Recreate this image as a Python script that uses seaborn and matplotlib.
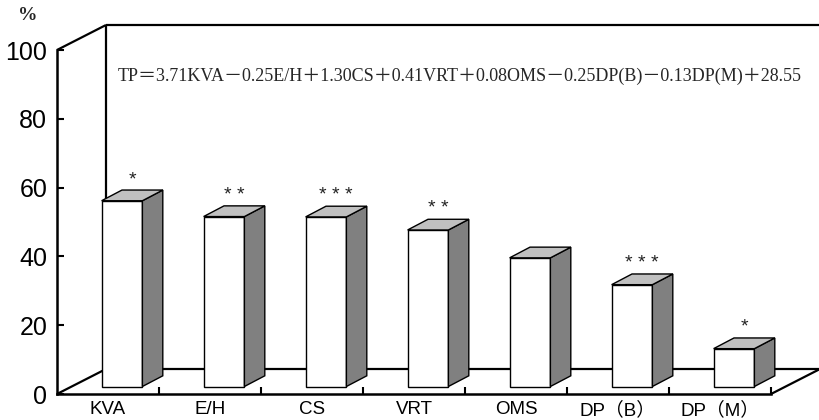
import numpy as np
import pandas as pd
import matplotlib
matplotlib.use("Agg")
import matplotlib.pyplot as plt
import seaborn as sns
from matplotlib.transforms import ScaledTranslation
from matplotlib.patches import Polygon

# values
categories = ["KVA", "E/H", "CS", "VRT", "OMS", "DP（B）", "DP（M）"]
values = [54.0, 49.4, 49.3, 45.5, 37.4, 29.6, 11.0]
stars = ["*", "* *", "* * *", "* *", "", "* * *", "*"]
y_ticks = [0, 20, 40, 60, 80, 100]
equation = ("TP＝3.71KVA－0.25E/H＋1.30CS＋0.41VRT＋0.08OMS"
            "－0.25DP(B)－0.13DP(M)＋28.55")

sns.set_style("ticks")
plt.rcParams['font.family'] = ['Liberation Sans', 'Noto Sans CJK JP', 'DejaVu Sans']

W, H = 820, 420
fig = plt.figure(figsize=(W / 100, H / 100), dpi=100)
ax = fig.add_axes([57 / W, (H - 394) / H, 714 / W, 344 / H])

df = pd.DataFrame({"item": categories, "pct": values})
sns.barplot(data=df, x="item", y="pct", color="white", saturation=1,
            edgecolor="black", linewidth=1.0, width=0.4, ax=ax, zorder=3)

ax.set_xlim(-0.5, 6.5)
ax.set_ylim(0, 100)
ax.set_yticks(y_ticks)
ax.set_xlabel("")
ax.set_ylabel("")

# pseudo 3d geometry (pixels)
front = (14, 7.5)    # bar front plane shift
depth = (20.4, 10.7)  # bar depth
box = (49, 25)       # depth of the whole box

shift = ScaledTranslation(front[0] / 100, front[1] / 100, fig.dpi_scale_trans)
inv = ax.transData.inverted()


def shifted(x, y, ox, oy):
    p = ax.transData.transform((x, y)) + np.array([ox, oy])
    return inv.transform(p)


for p, s in zip(ax.patches, stars):
    x0, w, h = p.get_x(), p.get_width(), p.get_height()
    p.set_transform(ax.transData + shift)
    fx, fy = front
    bx, by = front[0] + depth[0], front[1] + depth[1]
    side = [shifted(x0 + w, 0, fx, fy), shifted(x0 + w, h, fx, fy),
            shifted(x0 + w, h, bx, by), shifted(x0 + w, 0, bx, by)]
    top = [shifted(x0, h, fx, fy), shifted(x0 + w, h, fx, fy),
           shifted(x0 + w, h, bx, by), shifted(x0, h, bx, by)]
    ax.add_patch(Polygon(side, closed=True, facecolor="#808080", edgecolor="black",
                         lw=1.0, zorder=3, clip_on=False))
    ax.add_patch(Polygon(top, closed=True, facecolor="#c0c0c0", edgecolor="black",
                         lw=1.0, zorder=3, clip_on=False))
    if s:
        ax.annotate(s, xy=(x0 + w / 2, h), xytext=(fx + depth[0] / 2, fy + depth[1] + 2),
                    textcoords="offset pixels", ha="center", va="bottom",
                    fontsize=14, color="#222222")

# back walls of the box
dxf, dyf = box[0] / 714, box[1] / 344
frame = [
    ([0, dxf], [1, 1 + dyf]),
    ([dxf, 1 + dxf], [1 + dyf, 1 + dyf]),
    ([dxf, dxf], [1 + dyf, dyf]),
    ([dxf, 1 + dxf], [dyf, dyf]),
    ([0, dxf], [0, dyf]),
    ([1, 1 + dxf], [0, dyf]),
]
for xs, ys in frame:
    ax.plot(xs, ys, transform=ax.transAxes, color="black", lw=1.6,
            clip_on=False, zorder=1, solid_capstyle="butt")

sns.despine(ax=ax, top=True, right=True)
for side_name in ["left", "bottom"]:
    ax.spines[side_name].set_color("black")
    ax.spines[side_name].set_linewidth(1.8)
    ax.spines[side_name].set_zorder(4)

ax.tick_params(axis="y", direction="in", length=5, width=1.5, labelsize=18,
               pad=7, left=True, color="black", labelcolor="black")
ax.tick_params(axis="x", which="major", length=0, labelsize=13.5, pad=5,
               labelcolor="black")
ax.set_xticks(np.arange(0.5, 7, 1), minor=True)
ax.tick_params(axis="x", which="minor", direction="in", length=5, width=1.5,
               bottom=True, color="black")

ax.text((118 - 57) / 714, (394 - 76) / 344, equation, transform=ax.transAxes,
        ha="left", va="center", fontsize=13,
        family=["Liberation Serif", "Noto Sans CJK JP"])
fig.text(28 / W, 1 - 16 / H, "%", ha="center", va="center", fontsize=14,
         fontweight="bold", family="Liberation Serif")

fig.savefig("out.png", dpi=100)
